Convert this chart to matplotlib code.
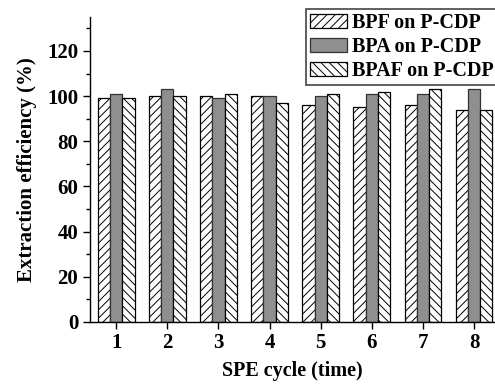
import matplotlib
matplotlib.use("Agg")
import matplotlib.pyplot as plt
import numpy as np
from matplotlib.ticker import MultipleLocator

plt.rcParams['font.family'] = ['Liberation Serif', 'DejaVu Serif']
plt.rcParams['font.weight'] = 'bold'
plt.rcParams['hatch.linewidth'] = 0.7

cycles = [1, 2, 3, 4, 5, 6, 7, 8]
bpf = [99, 100, 100, 100, 96, 95, 96, 94]
bpa = [101, 103, 99, 100, 100, 101, 101, 103]
bpaf = [99, 100, 101, 97, 101, 102, 103, 94]
labels = ['BPF on P-CDP', 'BPA on P-CDP', 'BPAF on P-CDP']

fig = plt.figure(figsize=(4.95, 3.87), dpi=100)
ax = fig.add_axes([0.182, 0.168, 0.818, 0.788])

x = np.array(cycles, dtype=float)
w = 0.24
ax.bar(x - w, bpf, w, facecolor='white', edgecolor='black', linewidth=0.9, hatch='////', label=labels[0])
ax.bar(x, bpa, w, facecolor='#8f8f8f', edgecolor='#333333', linewidth=0.9, label=labels[1])
ax.bar(x + w, bpaf, w, facecolor='white', edgecolor='black', linewidth=0.9, hatch='\\\\\\\\', label=labels[2])

ax.set_xlim(0.49, 8.41)
ax.set_ylim(0, 135)
ax.set_xticks(cycles)
ax.yaxis.set_major_locator(MultipleLocator(20))
ax.yaxis.set_minor_locator(MultipleLocator(10))
ax.tick_params(axis='both', which='major', direction='out', length=5, width=1, labelsize=15)
ax.tick_params(axis='y', which='minor', direction='out', length=3, width=1)
ax.tick_params(axis='x', pad=3)
for s in ['top', 'right']:
    ax.spines[s].set_visible(False)
for s in ['left', 'bottom']:
    ax.spines[s].set_linewidth(1)

ax.set_xlabel('SPE cycle (time)', fontsize=14.5, fontweight='bold', labelpad=6)
ax.set_ylabel('Extraction efficiency (%)', fontsize=15, fontweight='bold', labelpad=7)

leg = ax.legend(loc='upper right', bbox_to_anchor=(1.005, 0.977), bbox_transform=fig.transFigure,
                fontsize=14.5, handlelength=1.8, handleheight=0.72, labelspacing=0.2,
                handletextpad=0.25, borderpad=0.2, borderaxespad=0, fancybox=False,
                framealpha=1, edgecolor='#444444')
leg.get_frame().set_linewidth(1.2)

fig.savefig('out.png', dpi=100)
